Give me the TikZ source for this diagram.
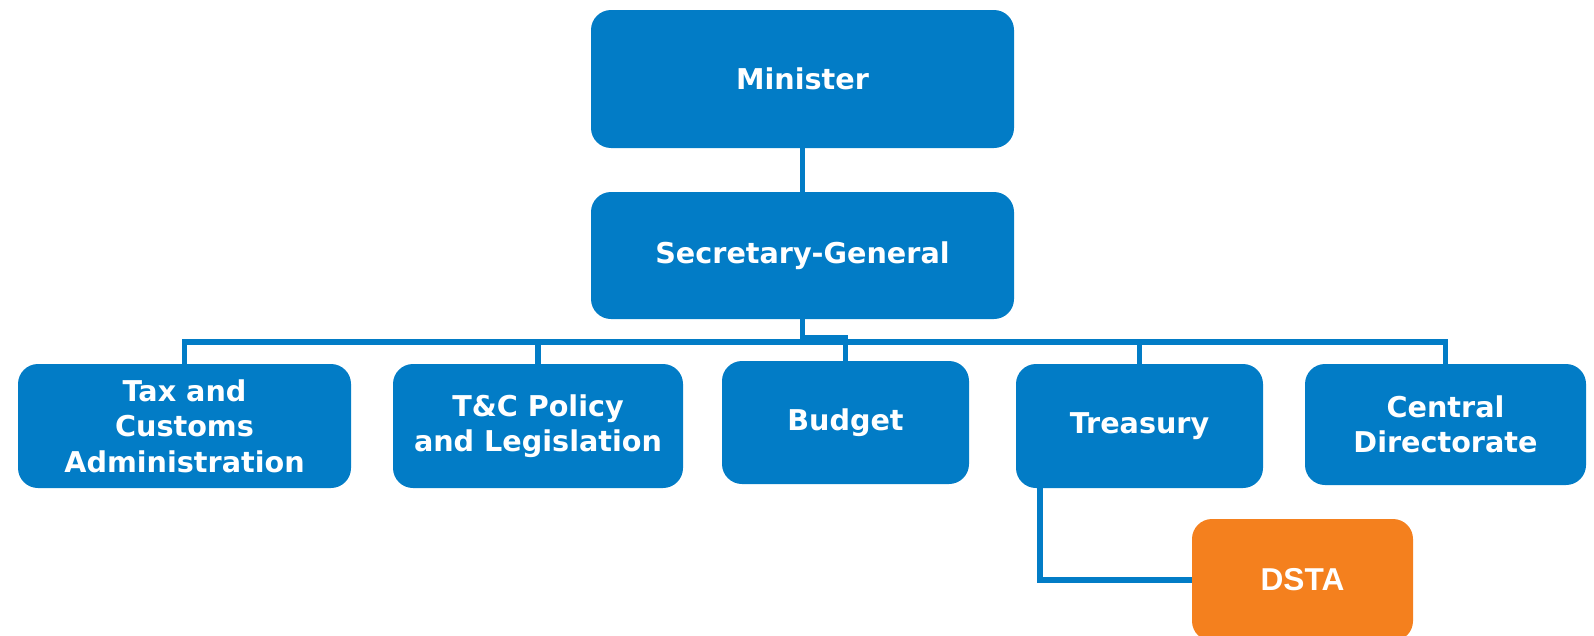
\documentclass[tikz,border=0pt]{standalone}
\usepackage{fontspec}
\setmainfont{DejaVu Sans}
\newfontfamily\dstafont{Liberation Sans}
\definecolor{orgblue}{RGB}{2,124,198}
\definecolor{orgorange}{RGB}{244,128,30}
\begin{document}
\begin{tikzpicture}[
    unit/.style={shape=rectangle, rounded corners=0.4cm, fill=orgblue, text=white, align=center, inner sep=0pt, font=\bfseries\fontsize{16.3}{20.2}\selectfont},
    link/.style={draw=orgblue, line width=0.105cm}
  ]
    \useasboundingbox (0,0) rectangle (31.88,-12.7);
    \node[unit, minimum width=8.46cm, minimum height=2.76cm] (M) at (16.05,-1.58) {Minister};
    \node[unit, minimum width=8.46cm, minimum height=2.54cm] (SG) at (16.05,-5.11) {Secretary-General};
    \node[unit, minimum width=6.66cm, minimum height=2.48cm] (TCA) at (3.69,-8.52) {Tax and\\Customs\\Administration};
    \node[unit, minimum width=5.8cm, minimum height=2.48cm] (TCP) at (10.76,-8.52) {T\&C Policy\\and Legislation};
    \node[unit, minimum width=4.94cm, minimum height=2.46cm] (B) at (16.91,-8.45) {Budget};
    \node[unit, minimum width=4.94cm, minimum height=2.48cm] (T) at (22.79,-8.52) {Treasury};
    \node[unit, minimum width=5.62cm, minimum height=2.42cm] (CD) at (28.91,-8.49) {Central\\Directorate};
    \node[unit, fill=orgorange, minimum width=4.42cm, minimum height=2.44cm, font=\dstafont\bfseries\fontsize{18}{20}\selectfont] (DSTA) at (26.05,-11.6) {DSTA};
    \draw[link] (M) -- (SG);
    \draw[link] (SG.south) -- ++(0,-0.455) -| (TCA.north);
    \draw[link] (SG.south) -- ++(0,-0.455) -| (TCP.north);
    \draw[link] (SG.south) -- ++(0,-0.36) -| (B.north);
    \draw[link] (SG.south) -- ++(0,-0.455) -| (T.north);
    \draw[link] (SG.south) -- ++(0,-0.455) -| (CD.north);
    \draw[link] ([xshift=-1.99cm]T.south) |- (DSTA.west);
\end{tikzpicture}
\end{document}
